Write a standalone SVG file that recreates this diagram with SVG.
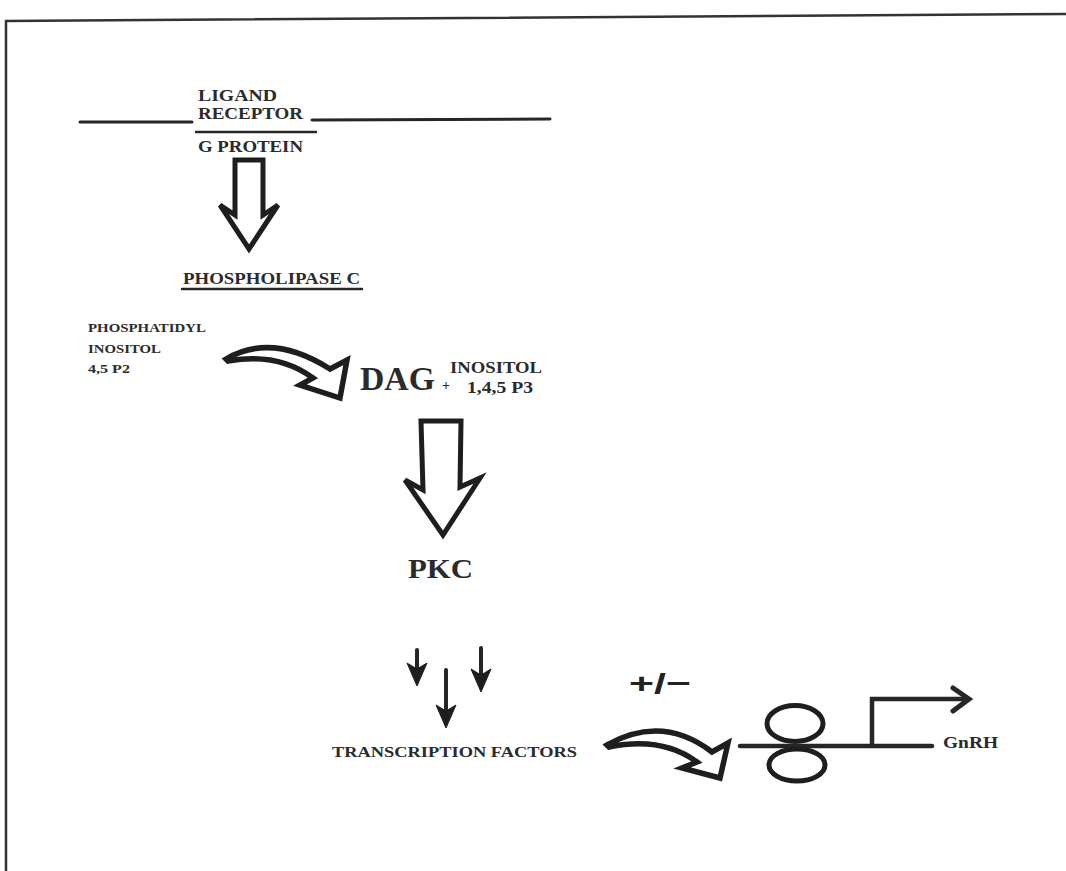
<svg xmlns="http://www.w3.org/2000/svg" width="1066" height="871" viewBox="0 0 1066 871">
<style>
  .t { font-family: "Liberation Serif", "Times New Roman", serif; font-weight: bold; fill: #2b2b2b; }
  .ln { stroke: #262626; fill: none; stroke-linecap: round; }
  .hollow { fill: #ffffff; stroke: #1e1e1e; stroke-width: 5; stroke-linejoin: miter; }
  .curve { fill: #ffffff; stroke: #1e1e1e; stroke-width: 5.5; stroke-linejoin: miter; }
  .head { fill: #1e1e1e; stroke: #1e1e1e; stroke-width: 1; stroke-linejoin: round; }
</style>
<rect width="1066" height="871" fill="#ffffff"/>
<polyline points="6,871 6,21 1066,14" fill="none" stroke="#333" stroke-width="2.5"/>

<g id="membrane">
  <line class="ln" x1="80" y1="122" x2="192" y2="122" stroke-width="3"/>
  <line class="ln" x1="312" y1="120" x2="550" y2="119" stroke-width="3"/>
  <line class="ln" x1="196" y1="132" x2="316" y2="132" stroke-width="2.5"/>
</g>
<g id="ligand-receptor">
  <text class="t" x="198" y="101" font-size="17" textLength="79" lengthAdjust="spacingAndGlyphs">LIGAND</text>
  <text class="t" x="198" y="119" font-size="17" textLength="105" lengthAdjust="spacingAndGlyphs">RECEPTOR</text>
</g>
<g id="g-protein">
  <text class="t" x="198" y="152" font-size="17" textLength="105" lengthAdjust="spacingAndGlyphs">G PROTEIN</text>
</g>
<g id="phospholipase-c">
  <text class="t" x="183" y="284" font-size="16" textLength="177" lengthAdjust="spacingAndGlyphs">PHOSPHOLIPASE C</text>
  <line class="ln" x1="182" y1="289" x2="362" y2="289" stroke-width="2.5"/>
</g>
<g id="pip2">
  <text class="t" x="88" y="332" font-size="13" textLength="118" lengthAdjust="spacingAndGlyphs">PHOSPHATIDYL</text>
  <text class="t" x="88" y="353" font-size="13" textLength="73" lengthAdjust="spacingAndGlyphs">INOSITOL</text>
  <text class="t" x="88" y="373" font-size="13" textLength="42" lengthAdjust="spacingAndGlyphs">4,5  P2</text>
</g>
<g id="dag-ip3">
  <text class="t" x="360" y="390" font-size="34" textLength="75" lengthAdjust="spacingAndGlyphs">DAG</text>
  <text class="t" x="442" y="390" font-size="14">+</text>
  <text class="t" x="450" y="373" font-size="17" textLength="92" lengthAdjust="spacingAndGlyphs">INOSITOL</text>
  <text class="t" x="467" y="393" font-size="17" textLength="66" lengthAdjust="spacingAndGlyphs">1,4,5  P3</text>
</g>
<g id="pkc">
  <text class="t" x="408" y="578" font-size="27" textLength="65" lengthAdjust="spacingAndGlyphs">PKC</text>
</g>
<g id="transcription-factors">
  <text class="t" x="332" y="757" font-size="15" textLength="245" lengthAdjust="spacingAndGlyphs">TRANSCRIPTION FACTORS</text>
</g>
<g id="gene">
  <line class="ln" x1="740" y1="746" x2="932" y2="746" stroke-width="4.5"/>
  <ellipse cx="795" cy="723.5" rx="28" ry="18" fill="none" stroke="#1e1e1e" stroke-width="5"/>
  <ellipse cx="797" cy="765" rx="28" ry="16" fill="none" stroke="#1e1e1e" stroke-width="5"/>
  <polyline class="ln" points="872,746 872,699 968,699" stroke-width="4.5"/>
  <polyline class="ln" points="953,688 969,699 953,711" stroke-width="5" stroke-linejoin="miter"/>
  <text class="t" x="943" y="748" font-size="16" textLength="55" lengthAdjust="spacingAndGlyphs">GnRH</text>
</g>
<g id="regulation-label">
  <text x="629" y="693" font-family="Liberation Sans, Arial, sans-serif" font-weight="bold" font-size="28" fill="#222" textLength="62" lengthAdjust="spacingAndGlyphs">+/−</text>
</g>

<g id="connectors">
  <path class="hollow" d="M235,160 L263,160 L263,215 L278,205 L249,249 L220,205 L235,215 Z"/>
  <path class="curve" d="M226,359 Q272,332 330,369 L347,360 L340,398 L300,385 L313,378 Q278,352 228,361 Z"/>
  <path class="hollow" d="M421,421 L461,421 L460,487 L480,478 L443,535 L405,480 L423,490 Z"/>
  <line class="ln" x1="417" y1="650" x2="417" y2="672" stroke-width="4"/>
  <path class="head" d="M417,686 L407,663 L417,669 L427,663 Z"/>
  <line class="ln" x1="481" y1="648" x2="481" y2="676" stroke-width="4"/>
  <path class="head" d="M481,692 L471,669 L481,675 L491,669 Z"/>
  <line class="ln" x1="446" y1="670" x2="446" y2="712" stroke-width="4"/>
  <path class="head" d="M446,728 L436,705 L446,711 L456,705 Z"/>
  <path class="curve" d="M607,745 Q662,714 712,752 L728,743 L720,778 L682,768 L697,762 Q662,736 609,747 Z"/>
</g>
</svg>
